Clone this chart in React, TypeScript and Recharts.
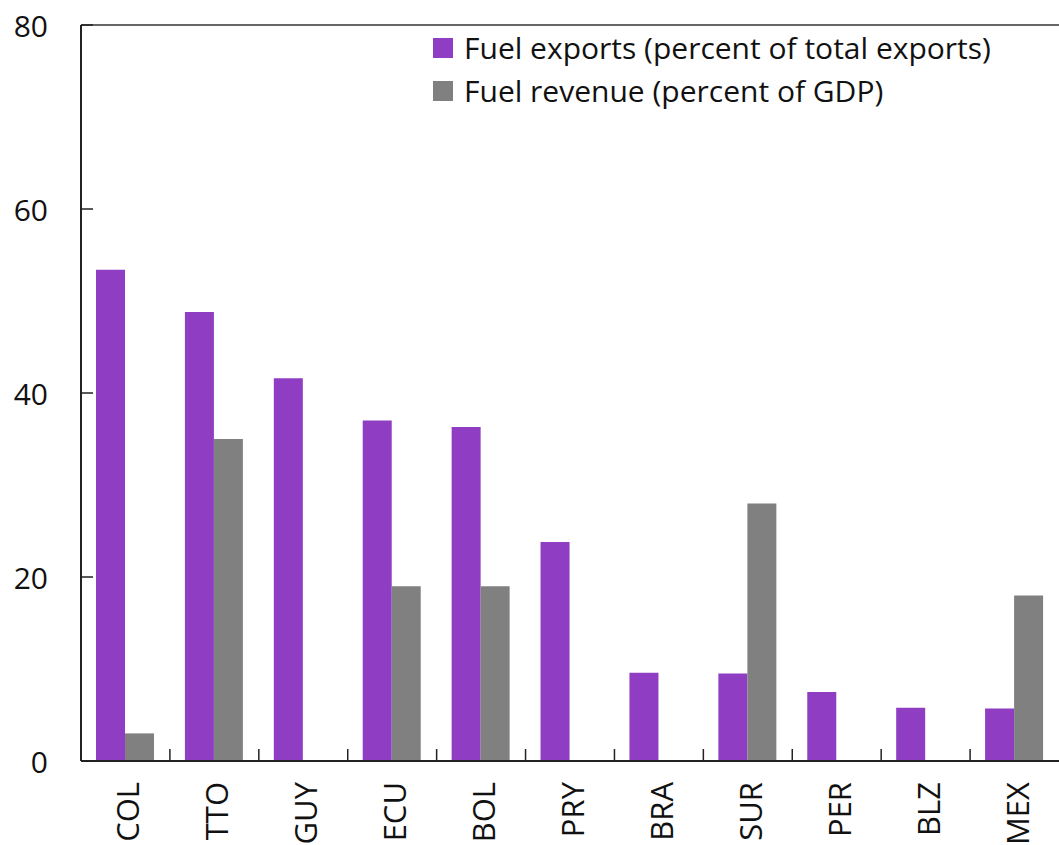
import React from 'react';
import { BarChart, Bar, XAxis, YAxis, Legend, ReferenceLine } from 'recharts';

const categories = ['COL', 'TTO', 'GUY', 'ECU', 'BOL', 'PRY', 'BRA', 'SUR', 'PER', 'BLZ', 'MEX'];
const fuelExports = [53.4, 48.8, 41.6, 37.0, 36.3, 23.8, 9.6, 9.5, 7.5, 5.8, 5.7];
const fuelRevenue = [3.0, 35.0, 0, 19.0, 19.0, 0, 0, 28.0, 0, 0, 18.0];
const yTicks = [0, 20, 40, 60, 80];
const seriesNames = ['Fuel exports (percent of total exports)', 'Fuel revenue (percent of GDP)'];
const colors = ['#8F3DC2', '#808080'];

const data = categories.map((c, i) => ({ name: c, exports: fuelExports[i], revenue: fuelRevenue[i] }));

const W = 1059;
const H = 845;
const LEFT = 81;
const TOP = 25;
const XH = 84;
const band = (W - LEFT) / categories.length;
const FONT = '"Open Sans", "Noto Sans", sans-serif';

const YTick = (props: any) => {
  const { x, y, payload } = props;
  return (
    <g>
      <line x1={x} x2={x + 12} y1={y} y2={y} stroke="#222" strokeWidth={1.5} />
      <text x={x - 33} y={y} textAnchor="end" dominantBaseline="central" fontSize={30} fontFamily={FONT} fill="#111">
        {payload.value}
      </text>
    </g>
  );
};

const XTick = (props: any) => {
  const { x, y, payload, index } = props;
  const bx = x - band / 2;
  return (
    <g>
      {index > 0 && <line x1={bx} x2={bx} y1={y} y2={y - 12} stroke="#222" strokeWidth={1.5} />}
      <text
        transform={`translate(${x + 2},${y + 21}) rotate(-90)`}
        textAnchor="end"
        dominantBaseline="central"
        fontSize={31}
        fontFamily={FONT}
        fill="#111"
      >
        {payload.value}
      </text>
    </g>
  );
};

const LegendContent = () => (
  <div style={{ fontFamily: FONT, fontSize: 30, color: '#111', lineHeight: '43px' }}>
    {seriesNames.map((n, i) => (
      <div key={n} style={{ display: 'flex', alignItems: 'center', height: 43 }}>
        <span style={{ display: 'inline-block', width: 20, height: 20, background: colors[i], marginRight: 11 }} />
        <span>{n}</span>
      </div>
    ))}
  </div>
);

export default function App() {
  return (
    <div style={{ position: 'absolute', left: 0, top: 0, width: W, height: H, background: '#fff' }}>
      <BarChart
        width={W}
        height={H}
        data={data}
        margin={{ top: TOP, right: 0, left: 0, bottom: 0 }}
        barSize={29}
        barGap={0}
      >
        <ReferenceLine y={80} stroke="#333" strokeWidth={1.5} ifOverflow="extendDomain" />
        <XAxis
          dataKey="name"
          height={XH}
          interval={0}
          tickSize={0}
          tickMargin={0}
          tickLine={false}
          axisLine={{ stroke: '#222', strokeWidth: 2 }}
          tick={<XTick />}
        />
        <YAxis
          width={LEFT}
          domain={[0, 80]}
          ticks={yTicks}
          interval={0}
          tickSize={0}
          tickMargin={0}
          tickLine={false}
          axisLine={{ stroke: '#222', strokeWidth: 2 }}
          tick={<YTick />}
        />
        <Legend
          layout="vertical"
          align="center"
          verticalAlign="middle"
          content={<LegendContent />}
          wrapperStyle={{ position: 'absolute', left: 433, top: 26, width: 600 }}
        />
        <Bar dataKey="exports" name={seriesNames[0]} fill={colors[0]} isAnimationActive={false} />
        <Bar dataKey="revenue" name={seriesNames[1]} fill={colors[1]} isAnimationActive={false} />
      </BarChart>
    </div>
  );
}
